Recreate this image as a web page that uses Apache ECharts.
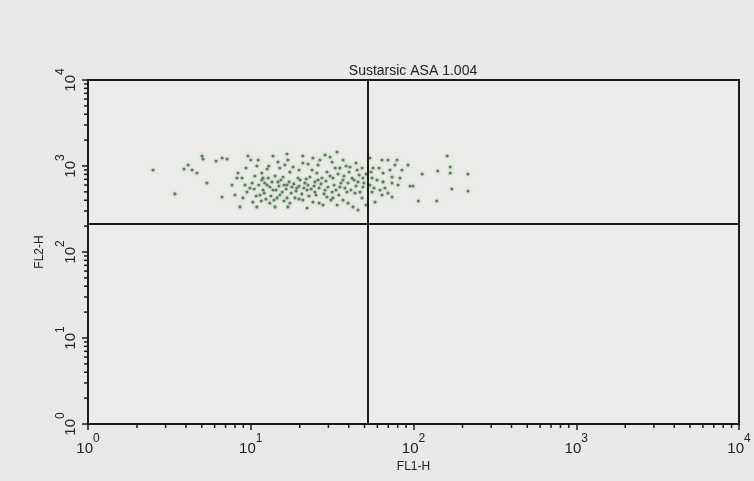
<!DOCTYPE html>
<html>
<head>
<meta charset="utf-8">
<title>Sustarsic ASA 1.004</title>
<script src="https://cdn.jsdelivr.net/npm/echarts@6/dist/echarts.min.js"></script>
<style>
    html, body { margin: 0; padding: 0; background: #e8e8e6; }
    #chart { width: 754px; height: 481px; }
</style>
</head>
<body>
<div id="chart"></div>
<script>
// axis decades and minor tick multipliers
var decades = [1, 10, 100, 1000, 10000];
var minorMult = [2, 3, 4, 5, 6, 7, 8, 9];

// quadrant gates (FL1, FL2)
var gateFL1 = 52.5;
var gateFL2 = 212;

// events: [FL1-H, FL2-H]
var events = [
    [2.51,898],[5.02,1307],[5.09,1206],[6.12,1143],[4.12,1027],[3.89,923],[4.36,898],[4.67,829],[5.38,634],[3.42,473],
    [7.15,1206],[6.66,1239],[9.62,1307],[10.0,1175],[11.1,1175],[13.7,1307],[16.7,1379],[16.9,1175],[14.7,1113],[12.9,1000],
    [12.6,923],[11.7,829],[10.6,765],[8.35,829],[8.84,725],[8.23,725],[7.67,601],[9.89,555],[12.6,601],[11.9,526],
    [13.7,526],[14.7,652],[15.8,745],[17.4,852],[16.7,601],[17.9,570],[19.2,555],[15.1,460],[16.7,425],[18.7,425],
    [8.0,460],[8.96,425],[10.3,381],[10.9,334],[8.59,334],[6.66,436],[13.1,371],[14.1,334],[16.9,334],[11.9,725],
    [16.2,1027],[18.2,974],[11.4,460],[19.5,725],
    [20.9,1084],[26.6,1175],[28.6,1343],[33.9,1455],[31.6,1113],[36.9,1175],[40.7,974],[45.0,898],[48.3,948],[35.3,948],
    [29.4,852],[25.5,829],[23.1,745],[21.5,634],[24.8,652],[27.4,725],[32.0,725],[36.9,687],[41.9,725],[45.6,652],
    [48.9,725],[55.6,725],[56.4,948],[54.0,1239],[22.2,526],[24.8,498],[28.6,526],[31.6,498],[35.3,570],[39.0,498],
    [43.7,485],[48.9,570],[55.6,498],[20.9,402],[24.1,381],[27.8,352],[32.0,425],[36.9,402],[42.5,334],[48.3,425],
    [58.0,381],[22.2,325],[29.4,436],[45.6,308],
    [64.1,1175],[69.7,1175],[79.2,1175],[76.9,1027],[92.5,1027],[85.0,898],[71.7,898],[65.0,829],[73.8,745],[82.6,725],
    [65.0,652],[73.8,634],[80.3,601],[95.2,585],[99.3,585],[66.8,555],[69.7,485],[64.1,460],[73.8,436],[113,807],
    [141,875],[161,1307],[168,974],[168,829],[216,807],[172,540],[216,512],[107,392],[139,392],
    [11.7,687],[12.2,634],[12.8,725],[13.1,570],[13.5,652],[14.1,765],[14.3,526],[14.9,585],[15.3,687],[15.6,498],
    [16.0,601],[16.5,540],[17.2,652],[17.7,485],[18.4,618],[19.0,512],[19.8,585],[20.1,687],[20.6,473],[21.2,555],
    [21.9,706],[22.5,601],[22.8,448],[23.5,540],[23.8,898],[24.5,585],[25.2,460],[25.9,687],[26.3,555],[27.0,618],
    [28.2,473],[29.0,669],[29.8,570],[30.7,765],[31.1,402],[32.5,601],[33.4,526],[34.4,807],[34.8,460],[35.8,634],
    [37.4,765],[37.9,555],[39.6,634],[40.2,852],[41.3,526],[43.1,687],[44.3,585],[46.3,786],[46.9,498],[49.6,634],
    [51.1,807],[54.0,601],[54.8,852],[57.2,555],[59.7,687],[61.4,948],[62.3,526],
    [9.22,601],[9.48,498],[10.2,634],[10.5,540],[10.8,448],[11.2,601],[11.6,392],[12.1,485],[12.4,413],[13.3,448],
    [13.9,402],[14.5,425],[16.0,392],[17.4,371],[19.8,413],[26.3,371],[33.9,352],[39.6,371],[51.1,352],
    [9.35,948],[10.9,1000],[15.1,948],[19.8,898],[22.5,1055],[25.9,1027],[33.0,948],[38.5,1000],[44.3,1084],
    [24.1,1239],[20.9,1307],[30.7,1273]
];

// minor tick positions (2..9 in every decade)
var minorTicks = [];
for (var d = 0; d < decades.length - 1; d++) {
    for (var m = 0; m < minorMult.length; m++) {
        minorTicks.push(decades[d] * minorMult[m]);
    }
}

var ink = '#1a1a1a';
var font = 'Liberation Sans, Arial, sans-serif';

function powLabel(v) {
    var e = Math.round(Math.log(v) / Math.LN10);
    return '{b|10}{s|' + e + '}';
}
// exponent raised with bottom padding so it sits just above the "10"
var labelRich = {
    b: { fontSize: 15, color: '#222', fontFamily: font, lineHeight: 16, verticalAlign: 'bottom' },
    s: { fontSize: 12, color: '#222', fontFamily: font, lineHeight: 12, verticalAlign: 'bottom', padding: [0, 0, 11, 0] }
};

var chart = echarts.init(document.getElementById('chart'));
chart.setOption({
    backgroundColor: '#e8e8e6',
    animation: false,
    title: {
        text: 'Sustarsic ASA 1.004',
        left: 408,
        top: 59,
        textAlign: 'center',
        textStyle: { fontSize: 14, fontWeight: 'normal', color: '#222', fontFamily: font }
    },
    grid: {
        left: 88, right: 15, top: 80, bottom: 57,
        show: true,
        borderColor: ink,
        borderWidth: 2,
        backgroundColor: '#ebebe9'
    },
    xAxis: {
        type: 'log', logBase: 10, min: 1, max: 10000,
        name: 'FL1-H', nameLocation: 'middle', nameGap: 36,
        nameTextStyle: { fontSize: 12, color: '#222', fontFamily: font },
        axisLine: { lineStyle: { color: ink, width: 2 } },
        axisTick: { length: 6, lineStyle: { color: ink, width: 1.5 } },
        axisLabel: { formatter: powLabel, rich: labelRich, margin: 16 },
        splitLine: { show: false }
    },
    yAxis: {
        type: 'log', logBase: 10, min: 1, max: 10000,
        name: 'FL2-H', nameLocation: 'middle', nameGap: 42, nameRotate: 90,
        nameTextStyle: { fontSize: 12, color: '#222', fontFamily: font },
        axisLine: { lineStyle: { color: ink, width: 2 } },
        axisTick: { length: 6, lineStyle: { color: ink, width: 1.5 } },
        axisLabel: { formatter: powLabel, rich: labelRich, rotate: 90, margin: 10 },
        splitLine: { show: false }
    },
    series: [
        {
            type: 'scatter',
            data: events,
            symbolSize: 3.2,
            itemStyle: {
                color: '#4a6e45',
                opacity: 0.85,
                shadowBlur: 3,
                shadowColor: 'rgba(90,160,80,0.5)'
            },
            markLine: {
                silent: true,
                symbol: 'none',
                label: { show: false },
                lineStyle: { color: ink, width: 2, type: 'solid' },
                data: [{ xAxis: gateFL1 }, { yAxis: gateFL2 }]
            }
        },
        {
            // log-spaced minor ticks on the x axis
            type: 'custom',
            silent: true,
            clip: false,
            data: minorTicks,
            encode: { x: 0 },
            renderItem: function(params, api) {
                var p = api.coord([api.value(0), 1]);
                return { type: 'line', shape: { x1: p[0], y1: p[1], x2: p[0], y2: p[1] + 4 }, style: { stroke: ink, lineWidth: 1.5 } };
            }
        },
        {
            // log-spaced minor ticks on the y axis
            type: 'custom',
            silent: true,
            clip: false,
            data: minorTicks,
            encode: { y: 0 },
            renderItem: function(params, api) {
                var p = api.coord([1, api.value(0)]);
                return { type: 'line', shape: { x1: p[0], y1: p[1], x2: p[0] - 4, y2: p[1] }, style: { stroke: ink, lineWidth: 1.5 } };
            }
        }
    ]
});
</script>
</body>
</html>
